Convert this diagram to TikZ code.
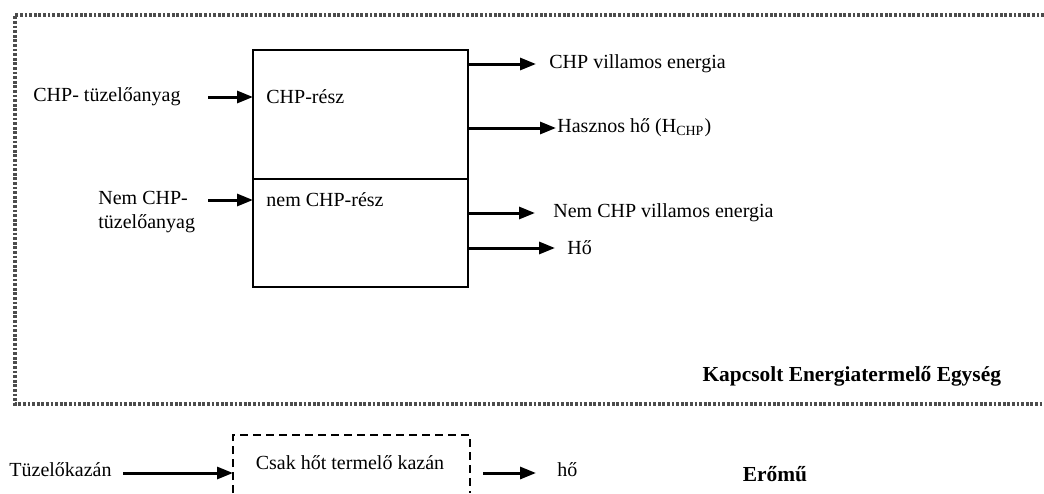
\documentclass[tikz,border=0pt]{standalone}
\usepackage{fontspec}
\setmainfont{Liberation Serif}
\usetikzlibrary{arrows.meta}

\begin{document}
\begin{tikzpicture}[x=0.5pt,y=-0.5pt,
  part/.style={rectangle,draw,line width=0.8pt,inner sep=0pt,outer sep=0pt,minimum width=107.5pt},
  lbl/.style={anchor=west,inner sep=0.5pt},
  flow/.style={-{Triangle[length=8pt,width=6pt]},line width=1.5pt},
  frame/.style={line width=2pt,dash pattern=on 1.4pt off 0.9pt,black!70},
  kazanbox/.style={line width=1.1pt,dash pattern=on 4pt off 2.5pt}]
\useasboundingbox (0,0) rectangle (1044,493);
\draw [frame] (1044,15) -- (15,15) -- (15,404) -- (1044,404);
% kapcsolt egyseg
\node [part,minimum height=64.5pt] (chp) at (360.5,114.5) {};
\node [part,minimum height=54pt] (nemchp) at (360.5,233) {};
\node [lbl] (chpresz) at (265,97) {CHP-rész};
\node [lbl] (nemresz) at (265,200) {nem CHP-rész};
\node [lbl] (fuel) at (32,97) {CHP- tüzelőanyag};
\node [lbl,align=left] (nemfuel) at (97,212) {Nem CHP-\\tüzelőanyag};
\coordinate (in1) at (208,97);
\coordinate (in2) at (208,200);
\draw [flow] (in1) -- (in1 -| chp.west);
\draw [flow] (in2) -- (in2 -| nemchp.west);
\node [lbl] (villamos) at (548,64) {CHP villamos energia};
\node [lbl] (hasznos) at (556,128) {Hasznos hő (H\textsubscript{CHP})};
\node [lbl] (nemvillamos) at (552,213) {Nem CHP villamos energia};
\node [lbl] (ho) at (566,248) {Hő};
\draw [flow] (chp.east |- villamos) -- ([xshift=-6pt]villamos.west);
\draw [flow] (chp.east |- hasznos) -- (hasznos.west);
\draw [flow] (nemchp.east |- nemvillamos) -- ([xshift=-8.5pt]nemvillamos.west);
\draw [flow] (nemchp.east |- ho) -- ([xshift=-5.5pt]ho.west);
\node [anchor=east,font=\fontsize{10.7}{13}\bfseries] (keg) at (1008,376) {Kapcsolt Energiatermelő Egység};
% eromu
\node [lbl] (tuzelo) at (8,470) {Tüzelőkazán};
\node (kazan) at (350,463) {Csak hőt termelő kazán};
\coordinate (kb) at (233,435);
\draw [kazanbox] (233,493) -- (kb) -- (470,435) -- (470,493);
\coordinate (in3) at (123,473);
\coordinate (out5) at (483,473);
\draw [flow] (in3) -- (in3 -| kb);
\node [lbl] (ho2) at (556,470) {hő};
\draw [flow] (out5) -- ([xshift=-10pt]ho2.west |- out5);
\node [font=\fontsize{10.7}{13}\bfseries] (eromu) at (775,474) {Erőmű};
\end{tikzpicture}
\end{document}
